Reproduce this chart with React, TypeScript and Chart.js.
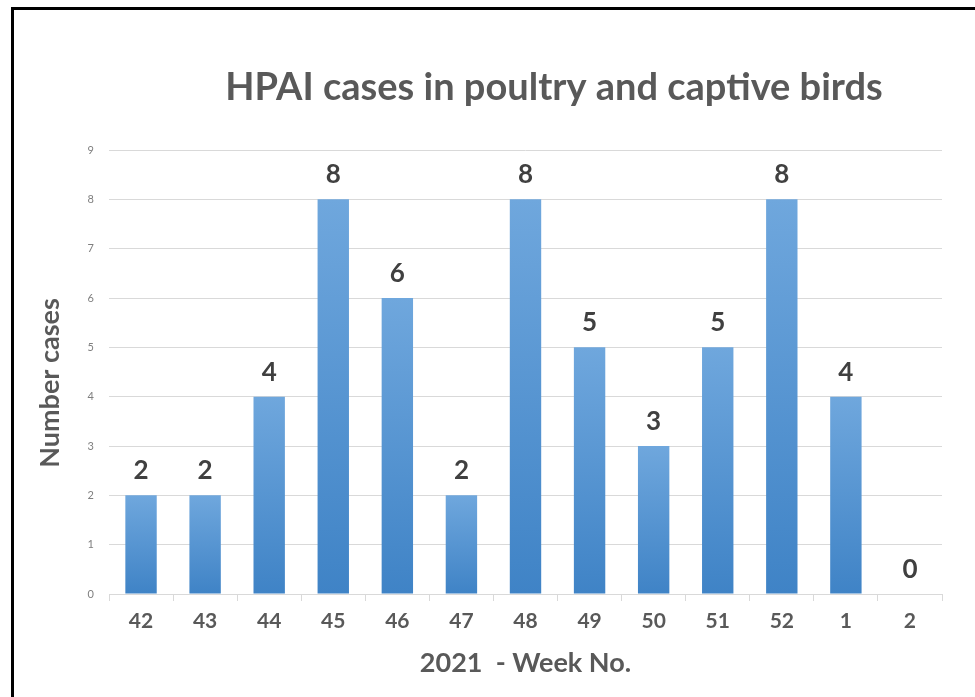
import React, { useEffect, useRef } from "react";
import { Chart, registerables } from "chart.js";

Chart.register(...registerables);

const weeks = ["42", "43", "44", "45", "46", "47", "48", "49", "50", "51", "52", "1", "2"];
const cases = [2, 2, 4, 8, 6, 2, 8, 5, 3, 5, 8, 4, 0];
const yMin = 0;
const yMax = 9;
const yStep = 1;
const chartTitle = "HPAI cases in poultry and captive birds";
const xTitle = "2021  - Week No.";
const yTitle = "Number cases";

const FONT = "Lato, 'Open Sans', sans-serif";

export default function App() {
  const ref = useRef<HTMLCanvasElement | null>(null);

  useEffect(() => {
    if (!ref.current) return;

    const textPlugin = {
      id: "texts",
      afterDatasetsDraw(chart: any) {
        const ctx = chart.ctx;
        const meta = chart.getDatasetMeta(0);
        ctx.save();
        ctx.fillStyle = "#404040";
        ctx.font = `bold 26px ${FONT}`;
        ctx.textAlign = "center";
        ctx.textBaseline = "alphabetic";
        meta.data.forEach((el: any, i: number) => {
          ctx.fillText(String(cases[i]), el.x, el.y - 16);
        });
        ctx.restore();
      },
      afterDraw(chart: any) {
        const ctx = chart.ctx;
        const area = chart.chartArea;
        ctx.save();
        ctx.fillStyle = "#595959";
        ctx.textAlign = "center";
        ctx.textBaseline = "middle";
        ctx.font = `bold 38px ${FONT}`;
        ctx.fillText(chartTitle, 554, 88);
        ctx.font = `bold 27px ${FONT}`;
        ctx.fillText(xTitle, (area.left + area.right) / 2, 663);
        ctx.translate(50, 383);
        ctx.rotate(-Math.PI / 2);
        ctx.fillText(yTitle, 0, 0);
        ctx.restore();
      },
    };

    const chart = new Chart(ref.current, {
      type: "bar",
      data: {
        labels: weeks,
        datasets: [
          {
            data: cases,
            backgroundColor: (c: any) => {
              const ch = c.chart;
              const y = ch.scales && ch.scales.y;
              if (!ch.chartArea || !y) return "#5b9bd5";
              const v = cases[c.dataIndex];
              const top = y.getPixelForValue(v);
              const base = y.getPixelForValue(0);
              if (base - top < 1) return "#eeeeee";
              const g = ch.ctx.createLinearGradient(0, top, 0, base);
              g.addColorStop(0, "#6fa7dd");
              g.addColorStop(1, "#3f83c6");
              return g;
            },
            borderWidth: 0,
            categoryPercentage: 1,
            barPercentage: 0.49,
          },
        ],
      },
      options: {
        responsive: false,
        animation: false,
        devicePixelRatio: 1,
        layout: { padding: { left: 0, right: 33, top: 150, bottom: 0 } },
        plugins: {
          legend: { display: false },
          title: { display: false },
          tooltip: { enabled: false },
        },
        scales: {
          x: {
            offset: true,
            grid: {
              offset: true,
              drawOnChartArea: false,
              drawTicks: true,
              tickLength: 7,
              color: "#d9d9d9",
            },
            border: { color: "#d9d9d9" },
            ticks: {
              color: "#595959",
              font: { family: FONT, size: 21, weight: "bold" },
              padding: 8,
            },
            afterFit: (s: any) => {
              s.height = 103;
            },
          },
          y: {
            min: yMin,
            max: yMax,
            grid: { color: "#d9d9d9", drawTicks: false },
            border: { display: false },
            ticks: {
              stepSize: yStep,
              color: "#7f7f7f",
              font: { family: FONT, size: 11 },
              padding: 15,
            },
            afterFit: (s: any) => {
              s.width = 109;
            },
          },
        },
      },
      plugins: [textPlugin],
    });

    return () => chart.destroy();
  }, []);

  return (
    <div
      style={{
        position: "fixed",
        left: 0,
        top: 0,
        width: 975,
        height: 697,
        background: "#ffffff",
        overflow: "hidden",
      }}
    >
      <div
        style={{
          position: "absolute",
          left: 11,
          top: 7,
          width: 1000,
          height: 800,
          borderLeft: "3px solid #000",
          borderTop: "3px solid #000",
        }}
      />
      <canvas
        ref={ref}
        width={975}
        height={697}
        style={{ position: "absolute", left: 0, top: 0, display: "block" }}
      />
    </div>
  );
}
